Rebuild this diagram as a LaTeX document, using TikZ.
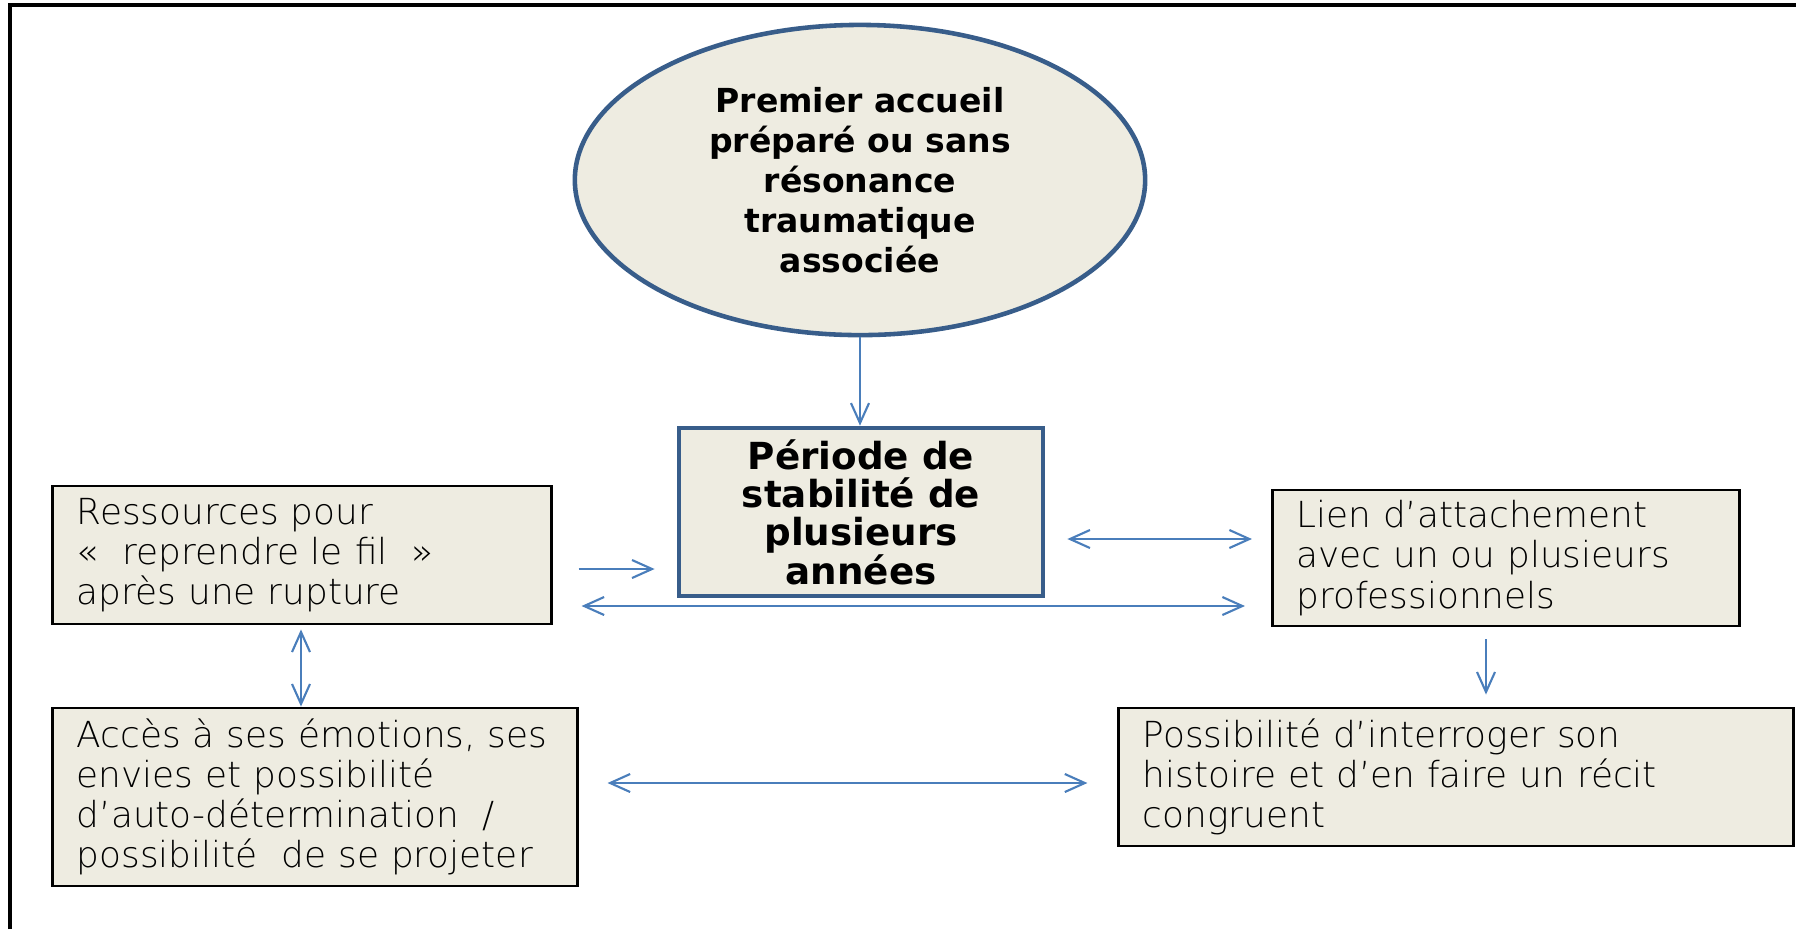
\documentclass[tikz,border=0pt]{standalone}
\usepackage{fontspec}
\setmainfont{DejaVu Sans}
\newfontfamily\lightfont{DejaVu Sans ExtraLight}
\usepackage{tikz}
\usetikzlibrary{calc, arrows.meta, shapes.geometric}
\definecolor{boxfill}{RGB}{238,236,225}
\definecolor{rimblue}{RGB}{56,93,138}
\definecolor{arrowblue}{RGB}{74,126,187}

\begin{document}
\begin{tikzpicture}[x=0.01cm,y=-0.01cm,inner sep=0pt,
        >={Straight Barb[length=2mm,width=1.8mm]},
        lightbox/.style={draw=black,line width=0.8pt,fill=boxfill,align=left,
            inner xsep=0.24cm,font=\lightfont\fontsize{10.2pt}{11.4pt}\selectfont},
        darkbox/.style={draw=rimblue,line width=1.3pt,fill=boxfill,align=center,
            font=\bfseries\fontsize{10.6pt}{10.9pt}\selectfont},
        link/.style={draw=arrowblue,line width=0.6pt}]
        \useasboundingbox (0,0) rectangle (1796,929);
        \draw [line width=1.3pt] (10,929) -- (10,5) -- (1796,5);
        \draw node [darkbox,ellipse,minimum width=5.7cm,minimum height=3.1cm,
            font=\bfseries\fontsize{9.4pt}{11.4pt}\selectfont]
            (ACC) at (860,180) {Premier accueil\\pr\'epar\'e ou sans\\r\'esonance\\traumatique\\associ\'ee};
        \draw node [darkbox,rectangle,minimum width=3.64cm,minimum height=1.68cm]
            (STAB) at (861,512) {P\'eriode de\\stabilit\'e de\\plusieurs\\ann\'ees};
        \draw node [lightbox,text width=4.5cm,minimum height=1.38cm]
            (RES) at (302,555) {Ressources pour\\«~~reprendre le fil~~»\\apr\`es une rupture};
        \draw node [lightbox,text width=4.76cm,minimum height=1.78cm]
            (EMO) at (315,797) {Acc\`es \`a ses \'emotions, ses\\envies et possibilit\'e\\d’auto-d\'etermination~~/\\possibilit\'e~~de se projeter};
        \draw node [lightbox,text width=4.19cm,minimum height=1.36cm]
            (LIEN) at (1506,558) {Lien d’attachement\\avec un ou plusieurs\\professionnels};
        \draw node [lightbox,text width=6.26cm,minimum height=1.38cm]
            (REC) at (1456,777) {Possibilit\'e d’interroger son\\histoire et d’en faire un r\'ecit\\congruent};
        \draw [link,->] (ACC.south) -- (ACC.south |- STAB.north);
        \draw [link,->]
        ($ (RES.east) + (26,14) $) -- ($ (STAB.west) + (-22,57) $);
        \draw [link,<->]
        ($ (RES.east) + (29,51) $) -- ($ (LIEN.west) + (-26,48) $);
        \draw [link,<->]
        ($ (STAB.east) + (22,27) $) -- ($ (LIEN.west) + (-19,-19) $);
        \draw [link,<->]
        ($ (RES.south) + (-1,4) $) -- ($ (RES.south |- EMO.north) + (-1,0) $);
        \draw [link,->]
        ($ (LIEN.south) + (-20,12) $) -- ($ (REC.north) + (30,-12) $);
        \draw [link,<->]
        ($ (EMO.east) + (29,-14) $) -- ($ (REC.west) + (-30,6) $);
    \end{tikzpicture}
\end{document}
